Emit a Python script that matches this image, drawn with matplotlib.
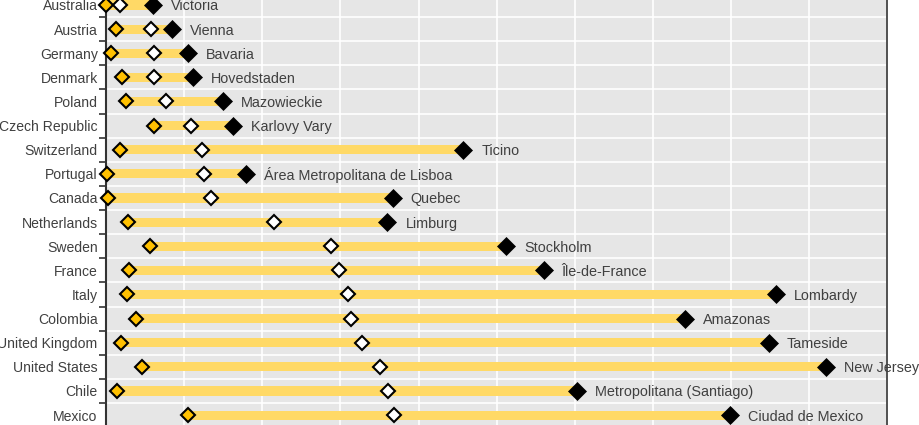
import matplotlib
matplotlib.use("Agg")
import matplotlib.pyplot as plt
import numpy as np

countries = ["Australia", "Austria", "Germany", "Denmark", "Poland", "Czech Republic",
             "Switzerland", "Portugal", "Canada", "Netherlands", "Sweden", "France",
             "Italy", "Colombia", "United Kingdom", "United States", "Chile", "Mexico"]
regions = ["Victoria", "Vienna", "Bavaria", "Hovedstaden", "Mazowieckie", "Karlovy Vary",
           "Ticino", "Área Metropolitana de Lisboa", "Quebec", "Limburg", "Stockholm",
           "Île-de-France", "Lombardy", "Amazonas", "Tameside", "New Jersey",
           "Metropolitana (Santiago)", "Ciudad de Mexico"]
min_vals = [0.00, 0.13, 0.06, 0.21, 0.26, 0.61, 0.18, 0.01, 0.03, 0.28, 0.56, 0.29,
            0.27, 0.39, 0.19, 0.46, 0.14, 1.05]
avg_vals = [0.18, 0.58, 0.61, 0.61, 0.77, 1.09, 1.23, 1.25, 1.34, 2.15, 2.88, 2.98,
            3.10, 3.13, 3.28, 3.50, 3.61, 3.68]
max_vals = [0.60, 0.84, 1.05, 1.11, 1.50, 1.62, 4.57, 1.79, 3.67, 3.60, 5.12, 5.60,
            8.57, 7.41, 8.48, 9.21, 6.03, 7.98]

plt.rcParams['font.family'] = ['Liberation Sans', 'DejaVu Sans']

fig = plt.figure(figsize=(9.2, 4.25), dpi=100)
ax = fig.add_axes([106/920, 0.0, (887.5-106)/920, 1.0])
ax.set_facecolor("#E6E6E6")

y = np.arange(len(countries))
mn = np.array(min_vals); av = np.array(avg_vals); mx = np.array(max_vals)

ax.barh(y, mx - mn, left=mn, height=0.38, color="#FFD966", zorder=2)
ax.plot(mn, y, "D", ms=7.5, mfc="#FFC000", mec="black", mew=1.5, zorder=3, clip_on=False)
ax.plot(av, y, "D", ms=7.5, mfc="white", mec="black", mew=1.5, zorder=3, clip_on=False)
ax.plot(mx, y, "D", ms=9, mfc="black", mec="black", mew=0.5, zorder=3, clip_on=False)

for yi, xv, lab in zip(y, mx, regions):
    ax.annotate(lab, (xv, yi), xytext=(13, 0), textcoords="offset points",
                va="center_baseline", ha="left", fontsize=10.4, color="#404040", zorder=5,
                annotation_clip=False)

ax.set_xticks(np.arange(0, 11, 1))
ax.tick_params(axis="x", length=0, labelbottom=False)
ax.set_yticks(y)
ax.set_yticklabels(countries, fontsize=10.1, color="#404040")
ax.set_yticks(np.arange(-0.5, len(countries), 1), minor=True)
ax.tick_params(axis="y", which="major", length=0, pad=6)
ax.tick_params(axis="y", which="minor", length=5, width=1.2, color="#333333", direction="out")
ax.set_xlim(0, 10)
ax.set_ylim(17.41, -0.207)
ax.grid(axis="x", which="major", color="white", lw=1.2, zorder=1)
ax.grid(axis="y", which="minor", color="white", lw=1.2, zorder=1)
ax.set_axisbelow(True)
for s in ["top", "bottom"]:
    ax.spines[s].set_visible(False)
ax.spines["left"].set_color("#333333")
ax.spines["left"].set_linewidth(1.5)
ax.spines["right"].set_color("#333333")
ax.spines["right"].set_linewidth(1.2)

fig.savefig("out.png", dpi=100)
